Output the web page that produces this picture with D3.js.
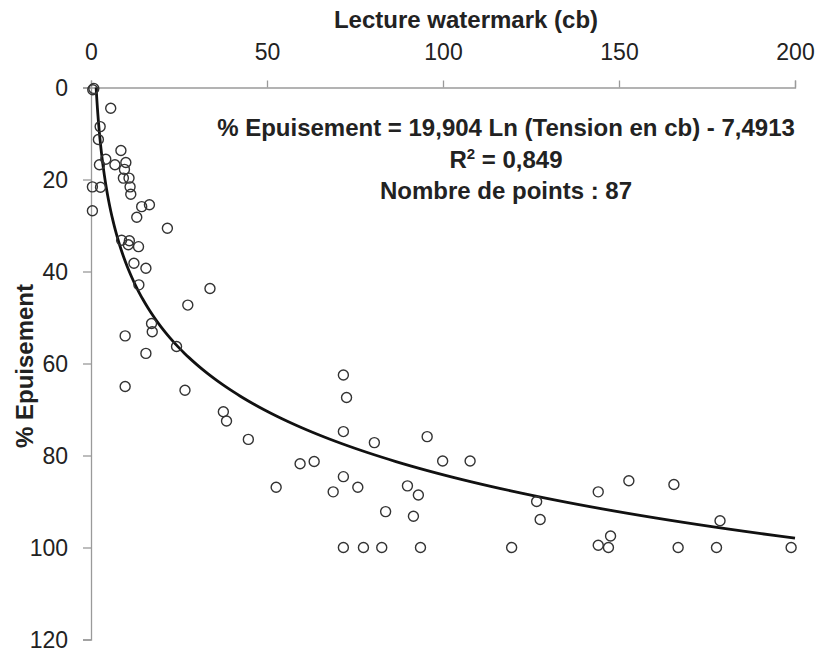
<!DOCTYPE html>
<html><head><meta charset="utf-8">
<script src="https://cdn.jsdelivr.net/npm/d3@7"></script>
<style>
html,body{margin:0;padding:0;background:#fff;}
svg{display:block;font-family:"Liberation Sans",Arial,sans-serif;}
</style></head>
<body><svg id="c" width="817" height="654"></svg>
<script>
// Data: [Lecture watermark (cb), % Epuisement]
const tension = [0.5,0.8,5.6,2.6,2.1,8.5,4.2,2.4,6.8,9.9,9.5,9.2,10.8,11.1,11.3,0.4,2.7,0.4,14.4,16.6,13,21.7,8.7,10.9,10.6,13.5,12.2,15.6,13.6,33.8,27.5,17.2,17.4,9.7,24.3,15.6,9.7,26.7,37.6,38.5,44.7,71.7,72.6,71.7,80.5,59.4,63.4,71.7,52.6,75.8,68.8,83.7,71.7,77.4,82.6,95.5,99.9,107.7,89.9,93.0,91.6,93.6,119.5,126.6,127.6,144.1,144.1,152.8,165.6,178.7,147.6,147.0,166.8,177.7,198.9];
const epuisement = [0.5,0.2,4.5,8.5,11.3,13.7,15.6,16.8,16.8,16.3,17.8,19.7,19.7,21.6,23.2,21.6,21.7,26.8,25.9,25.5,28.2,30.6,33.2,33.3,34.2,34.6,38.2,39.3,42.9,43.7,47.3,51.3,53.1,54.0,56.3,57.8,65.0,65.8,70.5,72.5,76.5,62.5,67.4,74.8,77.2,81.8,81.3,84.6,86.9,86.9,87.9,92.2,100,100,100,75.9,81.2,81.2,86.6,88.6,93.2,100,100,90.0,93.9,87.9,99.5,85.5,86.3,94.2,97.5,100,100,100,100];
const xTicks = [0,50,100,150,200];
const yTicks = [0,20,40,60,80,100,120];
// Logarithmic trendline coefficients (from the chart's equation)
const trendA = 19.904, trendB = -7.4913;
const xTitle = "Lecture watermark (cb)";
const yTitle = "% Epuisement";
const eqText = "% Epuisement = 19,904 Ln (Tension en cb) - 7,4913";
const r2Text = "0,849";
const countText = "Nombre de points : 87";

const svg = d3.select("#c");
const x = d3.scaleLinear().domain([0,200]).range([91,795]);
const y = d3.scaleLinear().domain([0,120]).range([87.5,639.5]);
const axisColor = "#9a9a9a", textColor = "#222";

const gx = svg.append("g").attr("transform","translate(0,87.5)")
  .call(d3.axisTop(x).tickValues(xTicks).tickSize(7).tickPadding(21).tickFormat(d3.format("d")));
const gy = svg.append("g").attr("transform","translate(91,0)")
  .call(d3.axisLeft(y).tickValues(yTicks).tickSize(8).tickPadding(15).tickFormat(d3.format("d")));
[gx,gy].forEach(g=>{
  g.select(".domain").attr("stroke",axisColor).attr("stroke-width",1.3);
  g.selectAll(".tick line").attr("stroke",axisColor).attr("stroke-width",1.3);
  g.selectAll(".tick text").attr("fill",textColor).style("font-size","23px").style("font-family","'Liberation Sans',Arial,sans-serif");
});
gy.selectAll(".tick text").attr("dy","0.36em");

svg.append("text").attr("x",466).attr("y",28).attr("text-anchor","middle")
  .style("font-size","24px").style("font-weight","bold").attr("fill",textColor).text(xTitle);
svg.append("text").attr("transform","translate(33,366) rotate(-90)").attr("text-anchor","middle")
  .style("font-size","24px").style("font-weight","bold").attr("fill",textColor).text(yTitle);

// Trendline
const x0 = Math.exp(-trendB/trendA);
const curvePts = d3.range(0,201).map(i=>{const t = x0*Math.pow(200/x0,i/200); return [t, trendA*Math.log(t)+trendB];});
svg.append("path").datum(curvePts)
  .attr("d", d3.line().x(d=>x(d[0])).y(d=>y(d[1])).curve(d3.curveLinear))
  .attr("fill","none").attr("stroke","#111").attr("stroke-width",2.8);

// Points
svg.append("g").selectAll("circle").data(tension.map((t,i)=>[t,epuisement[i]])).join("circle")
  .attr("cx",d=>x(d[0])).attr("cy",d=>y(d[1])).attr("r",5)
  .attr("fill","none").attr("stroke","#333").attr("stroke-width",1.4);

// Equation annotations
const ann = svg.append("g").attr("fill",textColor).style("font-weight","bold").style("font-size","24px").attr("text-anchor","middle");
ann.append("text").attr("x",506).attr("y",136).text(eqText);
const r2 = ann.append("text").attr("x",506).attr("y",168);
r2.append("tspan").text("R");
r2.append("tspan").attr("dy",-9).style("font-size","15px").text("2");
r2.append("tspan").attr("dy",9).text(" = " + r2Text);
ann.append("text").attr("x",506).attr("y",199).text(countText);
</script></body></html>
